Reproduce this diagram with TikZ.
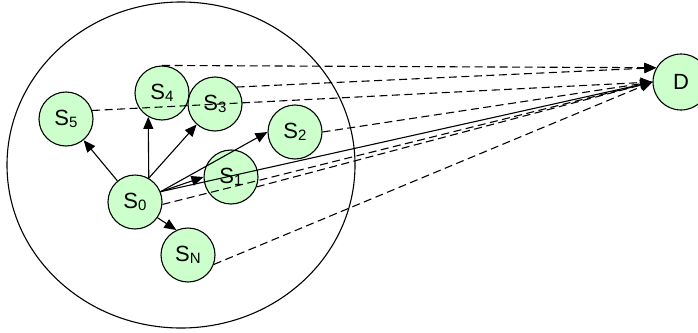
\documentclass[tikz,border=0pt]{standalone}
\usepackage{fontspec}
\setmainfont{Liberation Sans}
\usetikzlibrary{arrows.meta}
\definecolor{nodegreen}{RGB}{204,255,204}
\newcommand{\lowidx}[1]{\raisebox{-2pt}{\fontsize{15}{17}\selectfont #1}}

\begin{document}
\begin{tikzpicture}[x=1pt,y=-1pt,
  sensor/.style={circle,draw,fill=nodegreen,minimum size=54pt,inner sep=0pt,line width=1.1pt,font=\fontsize{22}{26}\selectfont},
  link/.style={-{Triangle[length=12pt,width=10pt]},line width=1.1pt},
  relay/.style={link,dash pattern=on 8pt off 4.5pt}]
\useasboundingbox (0,0) rectangle (698,332);
\draw[line width=1.1pt] (181,165) ellipse [x radius=174pt, y radius=163pt];
% sensors
\node[sensor] (s0) at (135,202) {S\lowidx{0}};
\node[sensor] (s1) at (231,177) {S\lowidx{1}};
\node[sensor] (s2) at (295,132) {S\lowidx{2}};
\node[sensor] (s3) at (215,104) {S\lowidx{3}};
\node[sensor] (s4) at (162,93) {S\lowidx{4}};
\node[sensor] (s5) at (66,119) {S\lowidx{5}};
\node[sensor] (sn) at (188,255) {S\lowidx{N}};
\node[sensor,minimum size=56pt] (d) at (681,82) {D};
% solid links from S0
\draw[link] (s0) -- (s5);
\draw[link] (s0.60) -- (s4.-120);
\draw[link] (s0.60) -- (s3);
\draw[link] (s0.22) -- (s2.west);
\draw[link] (s0.22) -- (s1.west);
\draw[link] (s0.-35) -- (sn.115);
\draw[link] (s0.22) -- (d.west);
% dashed links to D
\draw[relay] (s5.18) -- (d.west);
\draw[relay] (s4.north) -- (d.150);
\draw[relay] (s3.38) -- (d.150);
\draw[relay] (s2.east) -- (d.west);
\draw[relay] (s1.-21) -- (d.west);
\draw[relay] (s0.-5) -- (d.west);
\draw[relay] (sn.-20) -- (d.west);
\end{tikzpicture}
\end{document}
